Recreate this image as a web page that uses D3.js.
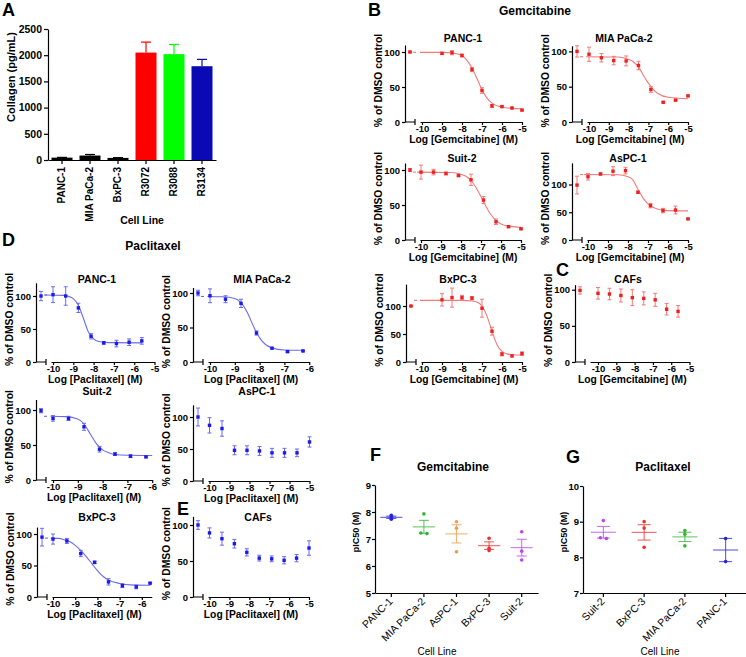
<!doctype html>
<html>
<head>
<meta charset="utf-8">
<script src="https://cdn.jsdelivr.net/npm/d3@7"></script>
<style>
  body { margin: 0; background: #fff; }
  svg text { font-family: "Liberation Sans", Arial, sans-serif; font-weight: bold; fill: #000; }
</style>
</head>
<body>
<div id="fig"></div>
<script>
// ---------- A: collagen secretion ----------
var collagenCells = ["PANC-1", "MIA PaCa-2", "BxPC-3", "R3072", "R3088", "R3134"];
var collagenMean = [45, 85, 40, 2050, 2020, 1790];
var collagenErr = [5, 20, 5, 200, 185, 130];
var collagenTicks = [0, 500, 1000, 1500, 2000, 2500];

// ---------- B/C: gemcitabine dose response (log M) ----------
var gemDoseHalf = [-9, -8.5, -8, -7.5, -7, -6.5, -6, -5.5, -5];
var gemDoseFine = [-10, -9.375, -8.75, -8.125, -7.5, -6.875, -6.25, -5.625, -5];
var gemCafDose = [-10, -9.375, -8.75, -8.125, -7.5, -6.875, -6.25, -5.625];

var gemPanc1Ctrl = [100, 1];
var gemPanc1Resp = [98, 99, 95, 75, 45, 23, 22, 20, 17];
var gemPanc1Err = [1.5, 3, 2, 3, 4, 2, 1, 1, 1];
var gemPanc1FitX = [-10.1, -9, -8.5, -8, -7.75, -7.5, -7.25, -7, -6.75, -6.5, -6, -5.5, -5];
var gemPanc1FitY = [99.5, 99.4, 98.5, 95, 88, 77, 62, 46, 34, 27, 21, 19.5, 19];

var gemMiaCtrl = [100, 8];
var gemMiaResp = [96, 91, 87, 86.5, 80, 46, 28, 31, 37];
var gemMiaErr = [10, 6, 6, 7, 6, 4, 1, 1, 1];
var gemMiaFitX = [-10.15, -8.5, -8, -7.75, -7.5, -7.25, -7, -6.75, -6.5, -6, -5];
var gemMiaFitY = [92.5, 92, 88.5, 85, 78, 66, 55, 46, 40, 35, 33];

var gemSuitCtrl = [100, 2];
var gemSuitResp = [97, 97, 95, 92, 86, 57, 26, 19, 16];
var gemSuitErr = [10, 4, 2, 1, 8, 5, 4, 1, 1];
var gemSuitFitX = [-10.2, -8.5, -8, -7.75, -7.5, -7.25, -7, -6.75, -6.5, -6.25, -6, -5.5, -5];
var gemSuitFitY = [97, 96.5, 94, 91, 85, 75, 62, 48, 36, 28, 23, 19.5, 18];

var gemAspcCtrl = [99, 16];
var gemAspcResp = [114, 119, 124, 125, 86, 62, 53, 54, 38];
var gemAspcErr = [6, 2, 8, 6, 2, 4, 4, 7, 1];
var gemAspcFitX = [-10.2, -8.5, -8, -7.75, -7.5, -7.25, -7, -6.75, -6.5, -6, -5];
var gemAspcFitY = [118, 117.5, 114, 108, 91, 76, 65, 59, 55.5, 53, 52.5];

var gemBxpcCtrl = [100, 1];
var gemBxpcResp = [111, 115, 115, 114, 96, 55, 14, 11, 15];
var gemBxpcErr = [11, 17, 4, 3, 16, 7, 3, 2, 3];
var gemBxpcFitX = [-10.1, -8, -7.5, -7.25, -7, -6.75, -6.5, -6.25, -6, -5.75, -5.5, -5];
var gemBxpcFitY = [110, 110, 109, 107, 100, 82, 55, 31, 19, 14.5, 13, 12.5];

var gemCafCtrl = [99, 5];
var gemCafResp = [95, 94, 92, 89, 88, 86, 73, 70];
var gemCafErr = [8, 8, 9, 11, 9, 9, 8, 8];

// ---------- D/E: paclitaxel dose response (log M) ----------
var paxDose = [-10, -9.375, -8.75, -8.125, -7.5, -6.875, -6.25, -5.625, -5];

var paxPanc1Ctrl = [100, 7];
var paxPanc1Resp = [102, 100, 82, 39, 29, 28, 30, 32];
var paxPanc1Err = [12, 14, 7, 4, 2, 5, 5, 5];
var paxPanc1FitX = [-10.4, -9.5, -9.25, -9, -8.75, -8.5, -8.25, -8, -7.75, -7.25, -5.625];
var paxPanc1FitY = [101.5, 101, 99.5, 96, 86, 66, 45, 35, 31, 29.3, 29];

var paxMiaCtrl = [100, 4];
var paxMiaResp = [96, 91, 85, 42, 20, 15, 16];
var paxMiaErr = [10, 5, 6, 3, 1, 1, 1];
var paxMiaFitX = [-10.1, -9.5, -9, -8.75, -8.5, -8.25, -8, -7.75, -7.5, -7, -6.25];
var paxMiaFitY = [95, 94.5, 92, 86, 72, 52, 35, 25, 20.5, 17.5, 17];

var paxSuitCtrl = [99, 3];
var paxSuitResp = [88, 88, 76, 44, 37, 34, 33];
var paxSuitErr = [4, 3, 5, 4, 2, 2, 1];
var paxSuitFitX = [-10.1, -9.5, -9, -8.75, -8.5, -8.25, -8, -7.75, -7.5, -7, -6];
var paxSuitFitY = [91, 90.5, 87, 80, 66, 52, 43, 39, 36.5, 35.3, 35];

var paxAspcCtrl = [100, 14];
var paxAspcResp = [87, 82, 48, 48, 47, 44, 44, 44, 61];
var paxAspcErr = [12, 12, 7, 7, 7, 7, 7, 6, 8];

var paxBxpcCtrl = [95, 14];
var paxBxpcResp = [92, 89, 69, 55, 24, 18, 16, 22];
var paxBxpcErr = [8, 4, 5, 2, 5, 3, 3, 1];
var paxBxpcFitX = [-10.1, -9.75, -9.5, -9.25, -9, -8.75, -8.5, -8.25, -8, -7.75, -7.5, -7, -6.5, -5.6];
var paxBxpcFitY = [93.5, 93, 91, 88, 82, 74, 64, 53, 42, 33, 27, 21.5, 19.3, 18.6];

var paxCafCtrl = [100, 6];
var paxCafResp = [89, 81, 74, 62, 54, 53, 51, 54, 68];
var paxCafErr = [7, 9, 6, 5, 4, 4, 5, 5, 10];

// ---------- F/G: pIC50 per cell line ----------
var gemIcCells = ["PANC-1", "MIA PaCa-2", "AsPC-1", "BxPC-3", "Suit-2"];
var gemIcValues = [[7.88, 7.8, 7.73], [7.93, 7.22, 7.2], [7.64, 7.4, 6.53], [7.03, 6.66, 6.57], [7.27, 6.55, 6.22]];
var gemIcTicks = [5, 6, 7, 8, 9];

var paxIcCells = ["Suit-2", "BxPC-3", "MIA PaCa-2", "PANC-1"];
var paxIcValues = [[9.03, 8.55, 8.53], [9.0, 8.82, 8.28], [8.75, 8.65, 8.32], [8.53, 7.88]];
var paxIcTicks = [7, 8, 9, 10];

var cellColor = {
    "PANC-1": "#2323d8", "MIA PaCa-2": "#33b533", "AsPC-1": "#f39a48",
    "BxPC-3": "#ec2f2f", "Suit-2": "#bd45ee"
};

var FONT = '"Liberation Sans", Arial, sans-serif';
var svg = d3.select("#fig").append("svg")
    .attr("width", 746)
    .attr("height", 657)
    .style("background", "#fff");

function styleAxis(sel, size) {
    sel.attr("font-family", FONT).attr("font-size", size).attr("font-weight", "bold");
    sel.selectAll("path, line").attr("stroke", "#000").attr("stroke-width", 1.2);
    sel.selectAll("text").attr("fill", "#000");
}

function text(x, y, str, size, anchor, rot, weight) {
    var t = svg.append("text")
        .attr("font-size", size)
        .attr("text-anchor", anchor || "middle")
        .attr("transform", "translate(" + x + "," + y + ")" + (rot ? " rotate(" + rot + ")" : ""))
        .text(str);
    if (weight) t.style("font-weight", weight);
    return t;
}

var intFmt = function (d) { return String(d); };

/* ===================== Panel A ===================== */
(function () {
    var x = d3.scaleBand().domain(collagenCells).range([48, 216]).paddingInner(0.25).paddingOuter(0.125);
    var y = d3.scaleLinear().domain([0, 2500]).range([160, 29]);
    var barColors = ["#000", "#000", "#000", "#ff0000", "#00ff00", "#0a0ab4"];

    var bars = svg.append("g").selectAll("g")
        .data(collagenMean)
        .enter().append("g");
    bars.append("line")
        .attr("x1", function (d, i) { return x(collagenCells[i]) + x.bandwidth() / 2; })
        .attr("x2", function (d, i) { return x(collagenCells[i]) + x.bandwidth() / 2; })
        .attr("y1", function (d) { return y(d); })
        .attr("y2", function (d, i) { return y(d + collagenErr[i]); })
        .attr("stroke", function (d, i) { return barColors[i]; }).attr("stroke-width", 1.2);
    bars.append("line")
        .attr("x1", function (d, i) { return x(collagenCells[i]) + x.bandwidth() / 2 - 5; })
        .attr("x2", function (d, i) { return x(collagenCells[i]) + x.bandwidth() / 2 + 5; })
        .attr("y1", function (d, i) { return y(d + collagenErr[i]); })
        .attr("y2", function (d, i) { return y(d + collagenErr[i]); })
        .attr("stroke", function (d, i) { return barColors[i]; }).attr("stroke-width", 1.2);
    bars.append("rect")
        .attr("x", function (d, i) { return x(collagenCells[i]); })
        .attr("y", function (d) { return y(d); })
        .attr("width", x.bandwidth())
        .attr("height", function (d) { return y(0) - y(d); })
        .attr("fill", function (d, i) { return barColors[i]; });

    svg.append("g").attr("transform", "translate(48,0)")
        .call(d3.axisLeft(y).tickValues(collagenTicks).tickSize(4).tickSizeOuter(0).tickPadding(2).tickFormat(intFmt))
        .call(styleAxis, 10.5);
    svg.append("g").attr("transform", "translate(0,160)")
        .call(d3.axisBottom(x).tickSize(4).tickSizeOuter(0).tickFormat(""))
        .call(styleAxis, 10);

    collagenCells.forEach(function (c) {
        text(x(c) + x.bandwidth() / 2 + 3, 167, c, 10, "end", -90);
    });
    text(142, 224, "Cell Line", 10.5);
    text(15, 77, "Collagen (pg/mL)", 11, "middle", -90);
    text(2, 16, "A", 18, "start");
})();

/* ===================== dose response panels ===================== */
function doseResponse(p, dose, ctrl, resp, err, fitX, fitY, drug, col, fitCol) {
    var xFull = d3.scaleLinear().domain([-10, p.xEnd]).range([p.x10, p.x10 + (p.xEnd + 10) * p.ppd]);
    var x2 = p.ax + 15;              // start of the axis after the break
    var xr = xFull(p.xEnd);
    var x = xFull.copy().domain([xFull.invert(x2), p.xEnd]).range([x2, xr]);
    var y = d3.scaleLinear().domain([0, p.yMax]).range([p.y0, p.y0 - p.yMax * p.yPer]);
    var cx = p.ax + 5;               // control (no drug) position

    var g = svg.append("g");
    g.append("g").attr("transform", "translate(" + p.ax + ",0)")
        .call(d3.axisLeft(y).tickValues([0, 50, 100]).tickSize(3).tickSizeOuter(0).tickPadding(2).tickFormat(intFmt))
        .call(styleAxis, 9.5);
    var ticks = d3.range(Math.ceil(x.domain()[0]), Math.floor(p.xEnd) + 1);
    g.append("g").attr("transform", "translate(0," + p.y0 + ")")
        .call(d3.axisBottom(x).tickValues(ticks).tickSize(3).tickSizeOuter(0).tickPadding(0).tickFormat(intFmt))
        .call(styleAxis, 9.5);
    // short first segment for the control
    g.append("path")
        .attr("d", "M" + p.ax + "," + p.y0 + "H" + (p.ax + 10) + "M" + (p.ax + 10) + "," + (p.y0 - 3) + "V" + (p.y0 + 3))
        .attr("stroke", "#000").attr("stroke-width", 1.2).attr("fill", "none");

    if (fitX) {
        var pts = fitX.map(function (v, i) { return [v, fitY[i]]; });
        g.append("path")
            .attr("d", d3.line().curve(d3.curveMonotoneX)
                .x(function (d) { return x(d[0]); })
                .y(function (d) { return y(d[1]); })(pts))
            .attr("fill", "none").attr("stroke", fitCol).attr("stroke-width", 1.1);
        g.append("line")
            .attr("x1", p.ax + 8).attr("x2", p.ax + 11)
            .attr("y1", y(fitY[0])).attr("y2", y(fitY[0]))
            .attr("stroke", fitCol).attr("stroke-width", 1.1);
    }

    var all = [{ px: cx, v: ctrl[0], e: ctrl[1] }].concat(resp.map(function (v, i) {
        return { px: x(dose[i]), v: v, e: err[i] };
    }));
    var pt = g.selectAll("g.pt").data(all).enter().append("g");
    pt.append("path")
        .attr("d", function (d) {
            return "M" + d.px + "," + y(d.v - d.e) + "V" + y(d.v + d.e) +
                "M" + (d.px - 2) + "," + y(d.v - d.e) + "h4" +
                "M" + (d.px - 2) + "," + y(d.v + d.e) + "h4";
        })
        .attr("stroke", fitCol).attr("stroke-width", 1).attr("fill", "none");
    pt.append("rect")
        .attr("x", function (d) { return d.px - 1.7; })
        .attr("y", function (d) { return y(d.v) - 1.7; })
        .attr("width", 3.4).attr("height", 3.4)
        .attr("fill", col);

    var top = y(p.yMax);
    text(p.tx, p.ty, p.title, 10.5);
    text((p.ax + xr) / 2, p.y0 + 21, "Log [" + drug + "] (M)", 10.3);
    text(p.ax - 23, (top + p.y0) / 2 - 3, "% of DMSO control", 10.3, "middle", -90);
}

var GEM = "#ee1f1f", GEMFIT = "#f27a7a", PAX = "#1a1aea", PAXFIT = "#6b6bf2";

// B
doseResponse({ ax: 405, x10: 422, ppd: 20, xEnd: -5, y0: 122, yPer: 0.70, yMax: 110, title: "PANC-1", tx: 463, ty: 42 },
    gemDoseHalf, gemPanc1Ctrl, gemPanc1Resp, gemPanc1Err, gemPanc1FitX, gemPanc1FitY, "Gemcitabine", GEM, GEMFIT);
doseResponse({ ax: 572, x10: 589, ppd: 19.8, xEnd: -5, y0: 122, yPer: 0.706, yMax: 108, title: "MIA PaCa-2", tx: 624, ty: 42 },
    gemDoseFine, gemMiaCtrl, gemMiaResp, gemMiaErr, gemMiaFitX, gemMiaFitY, "Gemcitabine", GEM, GEMFIT);
doseResponse({ ax: 405, x10: 421, ppd: 20, xEnd: -5, y0: 240, yPer: 0.70, yMax: 110, title: "Suit-2", tx: 462, ty: 162 },
    gemDoseFine, gemSuitCtrl, gemSuitResp, gemSuitErr, gemSuitFitX, gemSuitFitY, "Gemcitabine", GEM, GEMFIT);
doseResponse({ ax: 572, x10: 588, ppd: 20, xEnd: -5, y0: 240, yPer: 0.555, yMax: 139, title: "AsPC-1", tx: 628, ty: 162 },
    gemDoseFine, gemAspcCtrl, gemAspcResp, gemAspcErr, gemAspcFitX, gemAspcFitY, "Gemcitabine", GEM, GEMFIT);
doseResponse({ ax: 406, x10: 422, ppd: 20, xEnd: -5, y0: 362, yPer: 0.56, yMax: 139, title: "BxPC-3", tx: 458, ty: 283 },
    gemDoseHalf, gemBxpcCtrl, gemBxpcResp, gemBxpcErr, gemBxpcFitX, gemBxpcFitY, "Gemcitabine", GEM, GEMFIT);
// C
doseResponse({ ax: 575, x10: 598, ppd: 18.3, xEnd: -5, y0: 362, yPer: 0.723, yMax: 107, title: "CAFs", tx: 628, ty: 283 },
    gemCafDose, gemCafCtrl, gemCafResp, gemCafErr, null, null, "Gemcitabine", GEM, GEMFIT);

// D
doseResponse({ ax: 36, x10: 53, ppd: 20.3, xEnd: -5, y0: 362, yPer: 0.66, yMax: 120, title: "PANC-1", tx: 97, ty: 283 },
    paxDose, paxPanc1Ctrl, paxPanc1Resp, paxPanc1Err, paxPanc1FitX, paxPanc1FitY, "Paclitaxel", PAX, PAXFIT);
doseResponse({ ax: 193, x10: 210, ppd: 24.8, xEnd: -6, y0: 362, yPer: 0.69, yMax: 108, title: "MIA PaCa-2", tx: 262, ty: 283 },
    paxDose, paxMiaCtrl, paxMiaResp, paxMiaErr, paxMiaFitX, paxMiaFitY, "Paclitaxel", PAX, PAXFIT);
doseResponse({ ax: 36, x10: 53, ppd: 24.8, xEnd: -6, y0: 480, yPer: 0.70, yMax: 115, title: "Suit-2", tx: 97, ty: 395 },
    paxDose, paxSuitCtrl, paxSuitResp, paxSuitErr, paxSuitFitX, paxSuitFitY, "Paclitaxel", PAX, PAXFIT);
doseResponse({ ax: 193, x10: 209.5, ppd: 20, xEnd: -5, y0: 481, yPer: 0.64, yMax: 119, title: "AsPC-1", tx: 257, ty: 395 },
    paxDose, paxAspcCtrl, paxAspcResp, paxAspcErr, null, null, "Paclitaxel", PAX, PAXFIT);
doseResponse({ ax: 37, x10: 53, ppd: 22.2, xEnd: -5.55, y0: 597, yPer: 0.63, yMax: 111, title: "BxPC-3", tx: 97, ty: 521 },
    paxDose, paxBxpcCtrl, paxBxpcResp, paxBxpcErr, paxBxpcFitX, paxBxpcFitY, "Paclitaxel", PAX, PAXFIT);
// E
doseResponse({ ax: 193, x10: 209.5, ppd: 19.9, xEnd: -5, y0: 597, yPer: 0.72, yMax: 112, title: "CAFs", tx: 258, ty: 521 },
    paxDose, paxCafCtrl, paxCafResp, paxCafErr, null, null, "Paclitaxel", PAX, PAXFIT);

text(368, 16, "B", 18, "start");
text(535, 15, "Gemcitabine", 12);
text(556, 276, "C", 18, "start");
text(2, 246, "D", 18, "start");
text(153, 250, "Paclitaxel", 12);
text(177, 515, "E", 18, "start");

/* ===================== F / G pIC50 scatter ===================== */
function icPanel(p, cells, values, ticks) {
    var x = d3.scaleBand().domain(cells).range([p.ax, p.xr]);
    var y = d3.scaleLinear().domain([ticks[0], ticks[ticks.length - 1]]).range([p.y0, p.yTop]);
    var g = svg.append("g");
    g.append("g").attr("transform", "translate(" + p.ax + ",0)")
        .call(d3.axisLeft(y).tickValues(ticks).tickSize(3).tickSizeOuter(0).tickPadding(1).tickFormat(intFmt))
        .call(styleAxis, 9.5);
    g.append("g").attr("transform", "translate(0," + p.y0 + ")")
        .call(d3.axisBottom(x).tickSize(4).tickSizeOuter(0).tickFormat(""))
        .call(styleAxis, 9.5);

    cells.forEach(function (c, i) {
        var v = values[i];
        var cx = x(c) + x.bandwidth() / 2;
        var m = d3.mean(v);
        var sem = d3.deviation(v) / Math.sqrt(v.length);
        var col = cellColor[c];
        var ln = g.append("g").attr("stroke", col).attr("stroke-width", 1.1).attr("stroke-opacity", 0.75);
        ln.append("line").attr("x1", cx - p.mw / 2).attr("x2", cx + p.mw / 2).attr("y1", y(m)).attr("y2", y(m));
        ln.append("line").attr("x1", cx).attr("x2", cx).attr("y1", y(m - sem)).attr("y2", y(m + sem));
        ln.append("line").attr("x1", cx - p.sw / 2).attr("x2", cx + p.sw / 2).attr("y1", y(m - sem)).attr("y2", y(m - sem));
        ln.append("line").attr("x1", cx - p.sw / 2).attr("x2", cx + p.sw / 2).attr("y1", y(m + sem)).attr("y2", y(m + sem));
        // dodge dots that sit on top of each other
        var sorted = v.slice().sort(d3.descending);
        sorted.forEach(function (val, k) {
            var dx = 0;
            if (k > 0 && Math.abs(val - sorted[k - 1]) < 0.06) dx = 3;
            if (k < sorted.length - 1 && Math.abs(val - sorted[k + 1]) < 0.06) dx = -3;
            g.append("circle").attr("cx", cx + dx).attr("cy", y(val)).attr("r", 1.8).attr("fill", col);
        });
        text(cx + 2, p.y0 + 9, c, 10.5, "end", -45, "normal");
    });
    text(p.ax - 16, p.ylabelY, "pIC50 (M)", 9, "middle", -90);
    text(p.clx, 655, "Cell Line", 10, "middle", 0, "normal");
    text(p.tx, 471, p.title, 12);
}

icPanel({ ax: 375, xr: 538, y0: 593, yTop: 485, mw: 22, sw: 10, ylabelY: 532, clx: 437, tx: 453, title: "Gemcitabine" },
    gemIcCells, gemIcValues, gemIcTicks);
icPanel({ ax: 583, xr: 746, y0: 593, yTop: 486, mw: 25, sw: 13, ylabelY: 532, clx: 660, tx: 663, title: "Paclitaxel" },
    paxIcCells, paxIcValues, paxIcTicks);

text(370, 461, "F", 18, "start");
text(566, 463, "G", 18, "start");
</script>
</body>
</html>
